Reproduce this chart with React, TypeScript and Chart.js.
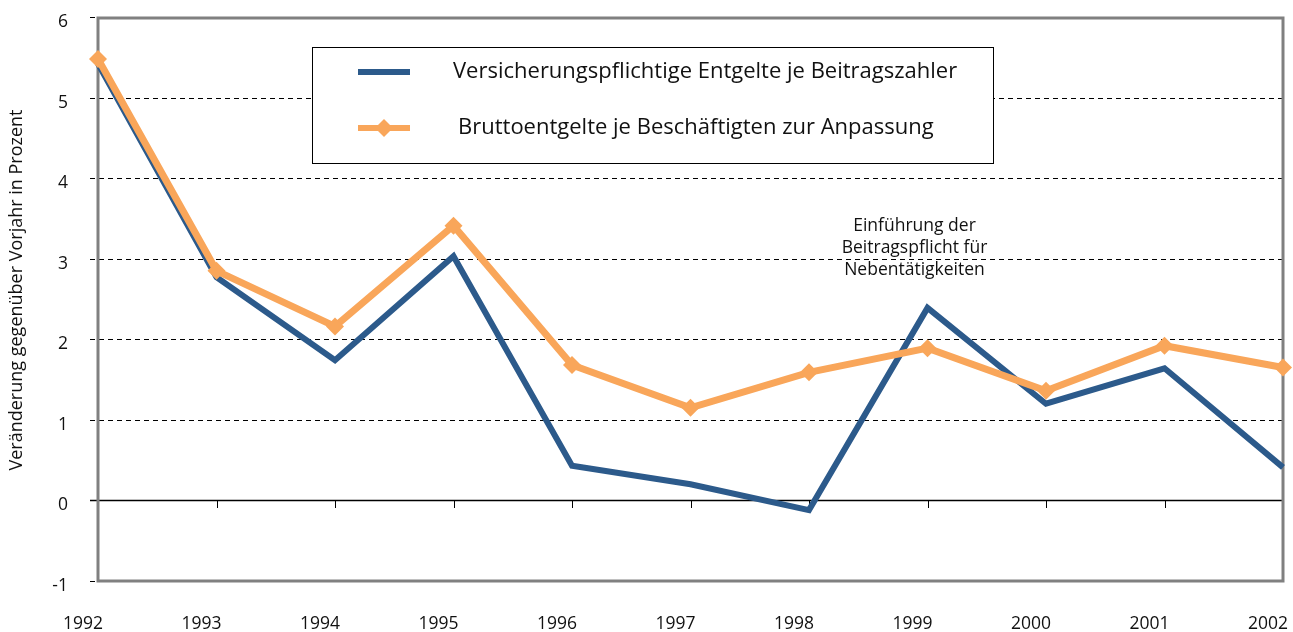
import React, { useEffect, useRef } from "react";
import { Chart, registerables } from "chart.js";

Chart.register(...registerables);

const years = ["1992", "1993", "1994", "1995", "1996", "1997", "1998", "1999", "2000", "2001", "2002"];
const versicherungspflichtigeEntgelte = [5.42, 2.77, 1.74, 3.03, 0.43, 0.2, -0.12, 2.39, 1.2, 1.64, 0.41];
const bruttoentgelte = [5.48, 2.85, 2.16, 3.41, 1.68, 1.15, 1.59, 1.89, 1.36, 1.92, 1.65];
const seriesNames = [
  "Versicherungspflichtige Entgelte je Beitragszahler",
  "Bruttoentgelte je Beschäftigten zur Anpassung",
];
const yMin = -1;
const yMax = 6;
const yAxisTitle = "Veränderung gegenüber Vorjahr in Prozent";
const annotationLines = ["Einführung der", "Beitragspflicht für", "Nebentätigkeiten"];
const annotationYear = "1999";
const annotationValue = 3.4;

const BLUE = "#2c5a8b";
const ORANGE = "#f9a65a";
const FONT = "'Open Sans', 'Noto Sans', sans-serif";

const framePlugin = {
  id: "frame",
  beforeDatasetsDraw(chart: any) {
    const { ctx, chartArea, scales } = chart;
    const ys = scales.y;
    const xs = scales.x;
    ctx.save();
    for (let v = yMin; v <= yMax; v++) {
      const py = Math.round(ys.getPixelForValue(v)) + 0.5;
      ctx.beginPath();
      ctx.strokeStyle = "#000";
      if (v === 0) {
        ctx.setLineDash([]);
        ctx.lineWidth = 1.5;
      } else {
        ctx.setLineDash([5, 4]);
        ctx.lineWidth = 1;
      }
      ctx.moveTo(chartArea.left - 8, py);
      ctx.lineTo(chartArea.right, py);
      ctx.stroke();
    }
    ctx.setLineDash([]);
    ctx.lineWidth = 1;
    const y0 = Math.round(ys.getPixelForValue(0));
    years.forEach((_, i) => {
      const px = Math.round(xs.getPixelForValue(i)) + 0.5;
      ctx.beginPath();
      ctx.moveTo(px, y0);
      ctx.lineTo(px, y0 + 8);
      ctx.stroke();
    });
    ctx.strokeStyle = "#808080";
    ctx.lineWidth = 3;
    ctx.strokeRect(chartArea.left, chartArea.top + 1, chartArea.right - chartArea.left, chartArea.bottom - chartArea.top - 1);
    ctx.restore();
  },
  afterDatasetsDraw(chart: any) {
    const { ctx, chartArea, scales } = chart;
    ctx.save();
    const bx = chartArea.left + 214;
    const by = chartArea.top + 30;
    const bw = 681;
    const bh = 116;
    ctx.fillStyle = "#fff";
    ctx.fillRect(bx, by, bw, bh);
    ctx.strokeStyle = "#000";
    ctx.lineWidth = 1;
    ctx.strokeRect(bx + 0.5, by + 0.5, bw, bh);
    const rows = [
      { color: BLUE, y: by + 25, text: seriesNames[0], marker: false, tx: bx + 141 },
      { color: ORANGE, y: by + 81, text: seriesNames[1], marker: true, tx: bx + 146 },
    ];
    ctx.font = `22px ${FONT}`;
    ctx.textBaseline = "middle";
    ctx.textAlign = "left";
    rows.forEach((r) => {
      ctx.strokeStyle = r.color;
      ctx.lineWidth = 6;
      ctx.beginPath();
      ctx.moveTo(bx + 46, r.y);
      ctx.lineTo(bx + 98, r.y);
      ctx.stroke();
      if (r.marker) {
        ctx.fillStyle = r.color;
        ctx.beginPath();
        const cx = bx + 72;
        ctx.moveTo(cx, r.y - 9);
        ctx.lineTo(cx + 9, r.y);
        ctx.lineTo(cx, r.y + 9);
        ctx.lineTo(cx - 9, r.y);
        ctx.closePath();
        ctx.fill();
      }
      ctx.fillStyle = "#111";
      ctx.fillText(r.text, r.tx, r.y);
    });
    const ax = scales.x.getPixelForValue(years.indexOf(annotationYear)) - 13;
    const ay = scales.y.getPixelForValue(annotationValue);
    ctx.font = `17.5px ${FONT}`;
    ctx.textAlign = "center";
    ctx.fillStyle = "#111";
    annotationLines.forEach((line, i) => {
      ctx.fillText(line, ax, ay + i * 22);
    });
    // y axis title
    ctx.translate(17, 290);
    ctx.rotate(-Math.PI / 2);
    ctx.font = `18px ${FONT}`;
    ctx.fillText(yAxisTitle, 0, 0);
    ctx.restore();
  },
};

export default function App() {
  const ref = useRef<HTMLCanvasElement | null>(null);
  useEffect(() => {
    if (!ref.current) return;
    const chart = new Chart(ref.current, {
      type: "line",
      data: {
        labels: years,
        datasets: [
          {
            label: seriesNames[1],
            data: bruttoentgelte,
            borderColor: ORANGE,
            backgroundColor: ORANGE,
            borderWidth: 7,
            pointStyle: "rectRot",
            pointRadius: 9,
            pointBorderWidth: 0,
            pointBackgroundColor: ORANGE,
            tension: 0,
            order: 0,
          },
          {
            label: seriesNames[0],
            data: versicherungspflichtigeEntgelte,
            borderColor: BLUE,
            backgroundColor: BLUE,
            borderWidth: 6,
            pointRadius: 0,
            tension: 0,
            order: 1,
          },
        ],
      },
      options: {
        animation: false,
        responsive: true,
        maintainAspectRatio: false,
        layout: { padding: { top: 17, right: 10, left: 0, bottom: 0 } },
        plugins: { legend: { display: false }, tooltip: { enabled: false } },
        scales: {
          x: {
            type: "category",
            offset: false,
            grid: { display: false, drawTicks: false },
            border: { display: false },
            ticks: {
              autoSkip: false,
              maxRotation: 0,
              labelOffset: -15,
              padding: 33,
              color: "#111",
              font: { family: FONT, size: 17.5 },
            },
            afterFit: (s: any) => {
              s.height = 51;
              s.paddingLeft = 0;
              s.paddingRight = 0;
            },
          },
          y: {
            min: yMin,
            max: yMax,
            grid: { display: false, drawTicks: false },
            border: { display: false },
            ticks: {
              stepSize: 1,
              padding: 30,
              labelOffset: 5,
              color: "#111",
              font: { family: FONT, size: 17.5 },
            },
            afterFit: (s: any) => {
              s.width = 98;
              s.paddingTop = 0;
              s.paddingBottom = 0;
            },
          },
        },
      },
      plugins: [framePlugin],
    });
    return () => chart.destroy();
  }, []);
  return (
    <div style={{ position: "fixed", left: 0, top: 0, width: 1293, height: 632, background: "#fff" }}>
      <canvas ref={ref} />
    </div>
  );
}
